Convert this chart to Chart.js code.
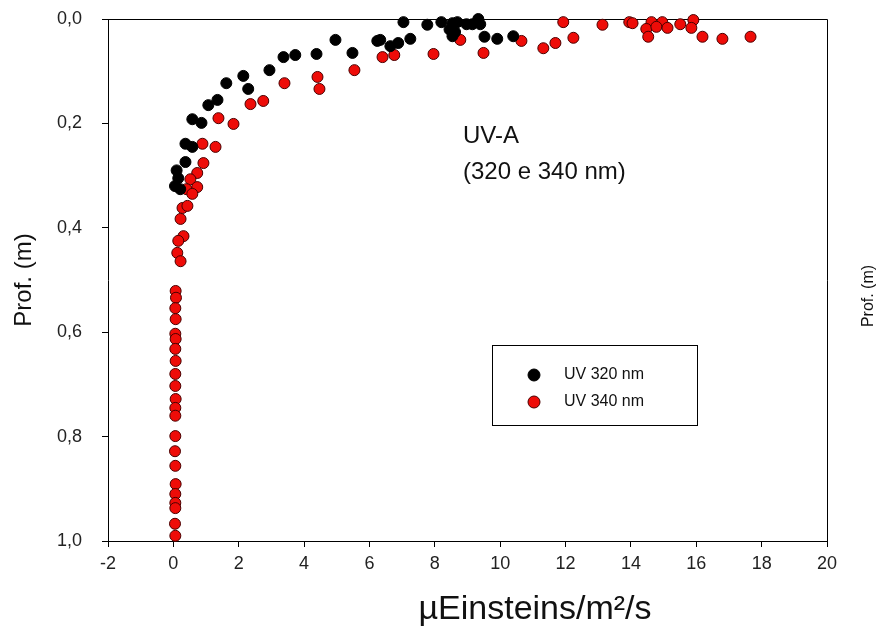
<!DOCTYPE html>
<html>
<head>
<meta charset="utf-8">
<script src="https://cdn.jsdelivr.net/npm/chart.js@4/dist/chart.umd.min.js"></script>
<style>
  body { margin: 0; background: #fff; }
  #wrap { width: 879px; height: 632px; }
</style>
</head>
<body>
<div id="wrap"><canvas id="myChart" width="879" height="632"></canvas></div>
<script>
// UV 320 nm (black)
const x320 = [7.04, 7.77, 8.20, 8.54, 8.69, 8.97, 9.15, 9.33, 9.39, 8.45, 8.62, 8.54, 9.52, 9.91, 10.40,
  6.33, 6.64, 6.88, 7.25, 4.96, 6.24, 3.37, 3.73, 4.38, 5.48, 2.94, 2.14, 1.62, 2.29, 1.35, 1.07,
  0.58, 0.86, 0.37, 0.58, 0.37, 0.15, 0.21, 0.10, 0.05];
const y320 = [0.006, 0.011, 0.006, 0.008, 0.006, 0.010, 0.010, 0.000, 0.010, 0.020, 0.025, 0.033, 0.034, 0.038, 0.033,
  0.040, 0.052, 0.046, 0.038, 0.040, 0.042, 0.073, 0.069, 0.067, 0.065, 0.098, 0.109, 0.123, 0.134, 0.155, 0.165,
  0.192, 0.199, 0.239, 0.245, 0.274, 0.305, 0.326, 0.290, 0.320];

// UV 340 nm (red)
const x340 = [11.93, 13.13, 13.95, 14.05, 14.63, 14.96, 14.47, 14.78, 15.12, 14.53, 15.51, 15.91, 15.85, 16.19, 16.80, 17.66,
  8.78, 9.49, 10.65, 11.32, 11.69, 12.24, 6.40, 6.76, 7.96, 5.54, 4.41, 4.47, 3.40, 2.75, 2.36,
  1.38, 1.84, 0.89, 1.29, 0.92, 0.73, 0.52, 0.73, 0.40, 0.58, 0.28, 0.43, 0.22, 0.31, 0.15, 0.12, 0.22,
  0.07, 0.08, 0.06, 0.07, 0.06, 0.07, 0.06, 0.07, 0.06, 0.06, 0.07, 0.06, 0.06, 0.06, 0.05, 0.06, 0.07, 0.06, 0.06, 0.06, 0.05, 0.06];
const y340 = [0.006, 0.011, 0.006, 0.008, 0.006, 0.006, 0.019, 0.015, 0.017, 0.034, 0.010, 0.002, 0.017, 0.034, 0.038, 0.034,
  0.040, 0.065, 0.042, 0.056, 0.046, 0.036, 0.073, 0.069, 0.067, 0.098, 0.111, 0.134, 0.123, 0.157, 0.163,
  0.190, 0.201, 0.239, 0.245, 0.276, 0.295, 0.307, 0.322, 0.326, 0.335, 0.362, 0.358, 0.383, 0.416, 0.425, 0.448, 0.464,
  0.521, 0.534, 0.554, 0.575, 0.603, 0.613, 0.632, 0.655, 0.680, 0.703, 0.728, 0.745, 0.760, 0.799, 0.828, 0.856, 0.891, 0.910, 0.927, 0.937, 0.967, 0.990];

const xTicks = [-2, 0, 2, 4, 6, 8, 10, 12, 14, 16, 18, 20];
const yTicks = [0, 0.2, 0.4, 0.6, 0.8, 1.0];

const label320 = "UV 320 nm";
const label340 = "UV 340 nm";
const xTitle = "µEinsteins/m²/s";
const yTitle = "Prof. (m)";
const note = ["UV-A", "(320 e 340 nm)"];

function pts(xs, ys) {
  return xs.map((x, i) => ({ x: x, y: ys[i] }));
}

const narrow = "'Liberation Sans Narrow', 'Liberation Sans', Arial, sans-serif";
const arial = "'Liberation Sans', Arial, sans-serif";

// frame, legend box, note and outer titles
const extras = {
  id: "extras",
  beforeDatasetsDraw(chart) {
    const a = chart.chartArea, c = chart.ctx;
    c.save();
    c.strokeStyle = "#000";
    c.lineWidth = 1;
    c.beginPath();
    c.moveTo(a.left, a.top + 0.5);
    c.lineTo(a.right + 0.5, a.top + 0.5);
    c.lineTo(a.right + 0.5, a.bottom);
    c.stroke();
    c.restore();
  },
  afterDraw(chart) {
    const c = chart.ctx;
    c.save();
    // note
    c.fillStyle = "#111";
    c.font = "24px " + arial;
    c.textBaseline = "middle";
    c.textAlign = "left";
    c.fillText(note[0], 463, 136);
    c.fillText(note[1], 463, 172);

    // legend
    c.strokeStyle = "#000";
    c.lineWidth = 1;
    c.fillStyle = "#fff";
    c.fillRect(492.5, 345.5, 205, 80);
    c.strokeRect(492.5, 345.5, 205, 80);
    const ds = chart.data.datasets;
    [375, 402].forEach((yy, i) => {
      c.beginPath();
      c.arc(534, yy, 6, 0, Math.PI * 2);
      c.fillStyle = ds[i].backgroundColor;
      c.fill();
      c.lineWidth = 1;
      c.strokeStyle = ds[i].borderColor;
      c.stroke();
      c.fillStyle = "#111";
      c.font = "16px " + arial;
      c.fillText(ds[i].label, 564, yy);
    });

    // x title
    c.font = "34px " + narrow;
    c.textAlign = "center";
    c.fillStyle = "#111";
    c.fillText(xTitle, 535, 610);

    // right side title
    c.translate(869, 296);
    c.rotate(-Math.PI / 2);
    c.font = "16px " + arial;
    c.fillText(yTitle, 0, 0);
    c.restore();
  }
};

new Chart("myChart", {
  type: "scatter",
  data: {
    datasets: [{
      label: label320,
      data: pts(x320, y320),
      backgroundColor: "#000",
      borderColor: "#000",
      borderWidth: 1,
      pointRadius: 5.5,
      clip: false
    }, {
      label: label340,
      data: pts(x340, y340),
      backgroundColor: "#ee0c08",
      borderColor: "#4a0000",
      borderWidth: 1,
      pointRadius: 5.5,
      clip: false
    }]
  },
  options: {
    responsive: false,
    animation: false,
    layout: { autoPadding: false, padding: { top: 19, right: 52, left: 0, bottom: 0 } },
    plugins: {
      legend: { display: false },
      tooltip: { enabled: false }
    },
    scales: {
      x: {
        type: "linear",
        min: -2,
        max: 20,
        afterBuildTicks: s => { s.ticks = xTicks.map(v => ({ value: v })); },
        afterFit: s => { s.height = 91; s.paddingLeft = 0; s.paddingRight = 0; },
        ticks: { color: "#222", padding: 6, font: { family: narrow, size: 18 } },
        grid: { drawOnChartArea: false, drawTicks: true, tickLength: 6, color: "#000" },
        border: { color: "#000", width: 1 }
      },
      y: {
        type: "linear",
        reverse: true,
        min: 0,
        max: 1,
        afterBuildTicks: s => { s.ticks = yTicks.map(v => ({ value: v })); },
        afterFit: s => { s.width = 108; s.paddingTop = 0; s.paddingBottom = 0; },
        ticks: {
          color: "#222",
          padding: 20,
          font: { family: arial, size: 18 },
          callback: v => v.toFixed(1).replace(".", ",")
        },
        title: { display: true, text: yTitle, color: "#111", padding: { top: 10, bottom: 0 }, font: { family: arial, size: 24 } },
        grid: { drawOnChartArea: false, drawTicks: true, tickLength: 6, color: "#000" },
        border: { color: "#000", width: 1 }
      }
    }
  },
  plugins: [extras]
});
</script>
</body>
</html>
